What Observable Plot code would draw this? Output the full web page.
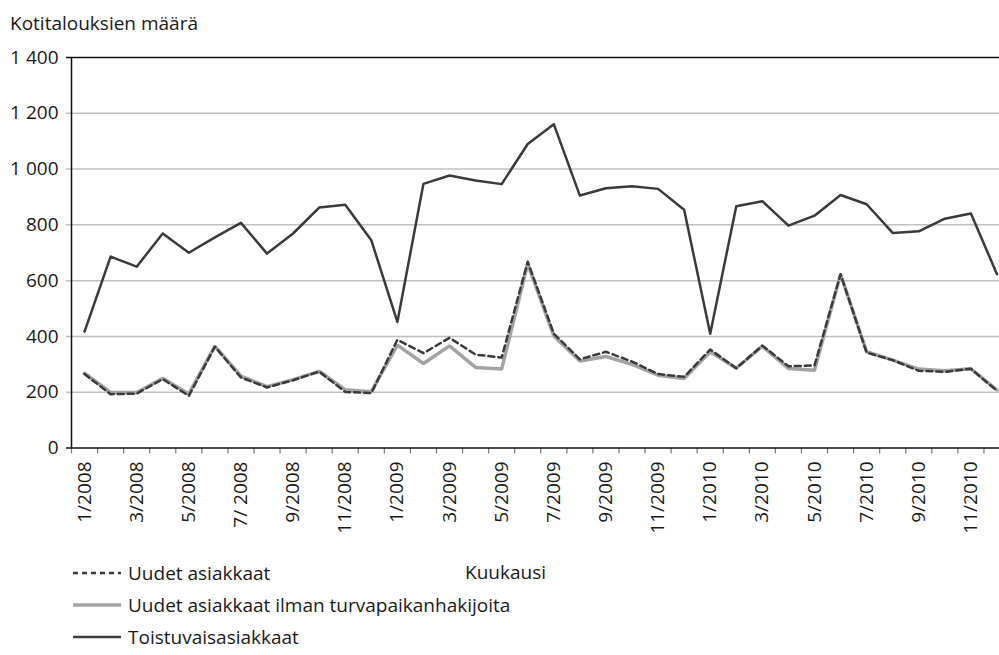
<!DOCTYPE html>
<html><head><meta charset="utf-8">
<script src="https://cdn.jsdelivr.net/npm/d3@7"></script>
<script src="https://cdn.jsdelivr.net/npm/@observablehq/plot@0.6"></script>
<style>
body{margin:0;background:#fff;}
#wrap{position:relative;width:999px;height:655px;overflow:hidden;background:#fff;font-family:"Open Sans","Liberation Sans",sans-serif;}
#chart{position:absolute;left:0;top:0;}
#over{position:absolute;left:0;top:0;}
</style></head><body><div id="wrap">
<div id="chart"></div>
<svg id="over" width="999" height="655"></svg>
</div>
<script>
// Month categories (1/2008 ... 12/2010)
const months = [];
for (const yr of [2008, 2009, 2010]) for (let m = 1; m <= 12; m++) months.push(`${m}/${yr}`);
// Tick labels shown on x axis (every other month)
const xTickLabels = ["1/2008","3/2008","5/2008","7/ 2008","9/2008","11/2008",
  "1/2009","3/2009","5/2009","7/2009","9/2009","11/2009",
  "1/2010","3/2010","5/2010","7/2010","9/2010","11/2010"];
const yTicks = [0, 200, 400, 600, 800, 1000, 1200, 1400];
const yTickLabels = ["0","200","400","600","800","1 000","1 200","1 400"];
// Series
const uudet = [265,193,195,247,187,363,253,217,243,274,201,197,388,340,395,335,324,668,410,318,345,310,265,255,353,286,367,293,296,623,342,315,277,273,284,205];
const ilman = [268,199,199,250,194,365,258,220,245,275,209,202,369,303,366,289,283,660,402,312,328,300,261,249,345,286,365,285,279,623,345,315,283,277,284,208];
const toist = [417,686,650,769,700,755,807,697,769,862,872,745,452,947,977,959,946,1090,1161,905,931,938,929,854,410,867,885,797,833,907,874,771,777,822,841,623];
const seriesNames = ["Uudet asiakkaat","Uudet asiakkaat ilman turvapaikanhakijoita","Toistuvaisasiakkaat"];

const rows = months.map((m, i) => ({i, m, uudet: uudet[i], ilman: ilman[i], toist: toist[i]}));
const labelRows = months.map((m, i) => ({i, m})).filter(d => d.i % 2 === 0).map((d, k) => ({i: d.i, label: xTickLabels[k]}));

const FONT = '"Open Sans","Liberation Sans",sans-serif';
const H = 545;
const chart = Plot.plot({
  width: 999, height: H,
  marginLeft: 71, marginRight: 0, marginTop: 57, marginBottom: H - 447.5,
  style: {fontFamily: FONT, fontSize: "19px", color: "#1a1a1a", background: "transparent", overflow: "visible"},
  x: {type: "linear", domain: [0, 36], range: [71, 71 + 36 * 26.07]},
  y: {domain: [0, 1400]},
  marks: [
    Plot.ruleY(yTicks.filter(v => v > 0 && v < 1400), {stroke: "#c0c0c0", strokeWidth: 1.5, insetLeft: -5}),
    Plot.axisX({ticks: d3.range(36), tickSize: 6, tickFormat: () => "", stroke: "#7a7a7a", strokeWidth: 1.2, label: null}),
    Plot.text(labelRows, {x: d => d.i + 0.5, y: 0, text: "label", rotate: -90, textAnchor: "end", lineAnchor: "middle", dy: 13.5, fontSize: 19, fill: "#1a1a1a"}),
    Plot.axisY({ticks: yTicks, tickSize: 0, tickPadding: 13, tickFormat: d => yTickLabels[yTicks.indexOf(d)], fontSize: 19, label: null}),
    Plot.line(rows, {x: d => d.i + 0.5, y: "ilman", stroke: "#a3a3a3", strokeWidth: 3.5, strokeLinejoin: "miter"}),
    Plot.line(rows, {x: d => d.i + 0.5, y: "uudet", stroke: "#3a3a3a", strokeWidth: 2.5, strokeDasharray: "6,4"}),
    Plot.line(rows, {x: d => d.i + 0.5, y: "toist", stroke: "#3a3a3a", strokeWidth: 2.5}),
    Plot.ruleY([0, 1400], {stroke: "#111", strokeWidth: 1.5, insetLeft: -5}),
    Plot.ruleX([0], {stroke: "#111", strokeWidth: 1.5})
  ]
});
document.getElementById("chart").appendChild(chart);

// Title, axis title and legend as overlay text
const over = d3.select("#over");
const txt = (x, y, s) => over.append("text").attr("x", x).attr("y", y).attr("font-family", FONT).attr("font-size", 19).attr("fill", "#1a1a1a").text(s);
txt(10, 30, "Kotitalouksien määrä");
txt(465, 579, "Kuukausi");
const legendStyles = [
  {stroke: "#3a3a3a", width: 2.5, dash: "5,4"},
  {stroke: "#a3a3a3", width: 3.5, dash: null},
  {stroke: "#3a3a3a", width: 2.5, dash: null}
];
const rowsY = [573, 605, 637];
seriesNames.forEach((name, k) => {
  const s = legendStyles[k];
  const l = over.append("line").attr("x1", 73).attr("x2", 121).attr("y1", rowsY[k]).attr("y2", rowsY[k])
    .attr("stroke", s.stroke).attr("stroke-width", s.width);
  if (s.dash) l.attr("stroke-dasharray", s.dash);
  txt(128, rowsY[k] + 7, name);
});
</script>
</body></html>
